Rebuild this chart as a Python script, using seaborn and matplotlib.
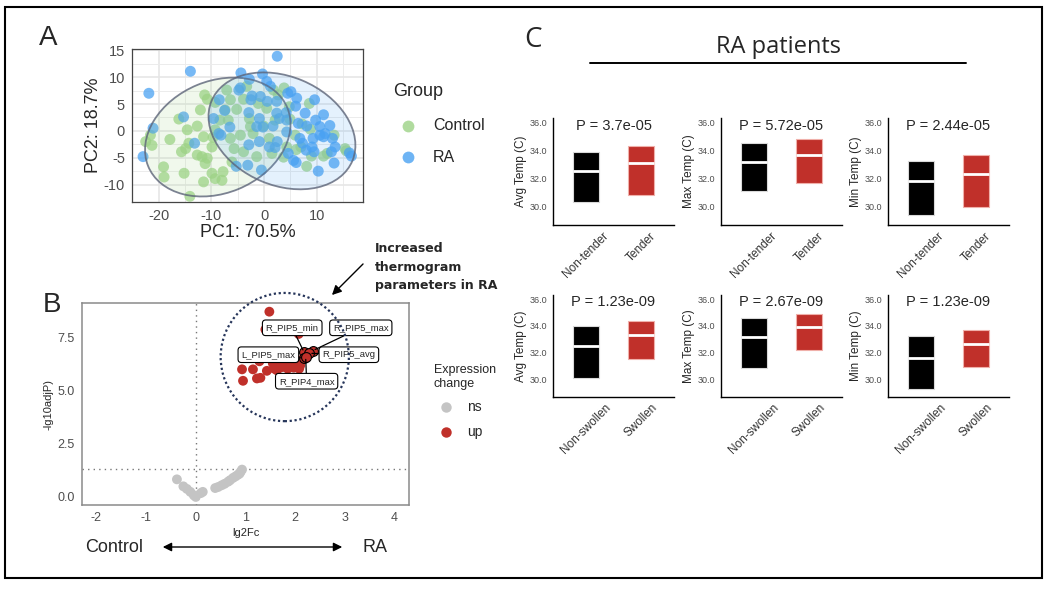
import warnings
warnings.simplefilter(action='ignore', category=UserWarning)

import numpy as np
import pandas as pd
import matplotlib
matplotlib.use("Agg")
import matplotlib.pyplot as plt
import matplotlib.transforms as mtransforms
import seaborn as sns
from matplotlib.patches import Ellipse, Rectangle, FancyArrowPatch
from matplotlib.lines import Line2D

sns.set_style("white")
plt.rcParams['font.family'] = ['Liberation Sans', 'DejaVu Sans']
plt.rcParams['axes.unicode_minus'] = False

# ---------------- data ----------------
# Panel A: PCA scores (PC1, PC2)
ctrl_pts = [(-22.5, -2.0), (-21.6, -0.8), (-21.3, -2.7), (-19.1, -6.7), (-19.0, -8.6),
            (-17.9, -1.6), (-16.2, 2.2), (-15.2, -7.9), (-15.7, -3.9), (-14.9, -3.3),
            (-14.6, 0.2), (-14.1, -12.2), (-12.7, 0.9), (-12.1, 3.9), (-11.3, 6.7),
            (-10.8, 5.9), (-11.5, -1.1), (-11.5, -9.5), (-11.8, -4.8), (-11.2, -6.1),
            (-10.8, -5.1), (-9.9, -3.0), (-9.7, -1.2), (-9.3, -8.9), (-8.0, -9.2),
            (-7.8, -7.6), (-8.4, 2.0), (-9.3, 0.2), (-7.1, 7.6), (-6.4, 5.8),
            (-6.4, -1.4), (-5.7, -3.3), (-6.1, -5.8), (-5.2, 4.0), (-4.5, -0.8),
            (-3.3, 8.3), (-2.8, 2.3), (-2.1, -0.5), (-1.1, 5.1), (-0.1, 0.9),
            (0.5, 4.2), (1.0, -1.4), (1.8, 7.6), (2.7, 6.7), (3.8, 8.0),
            (4.9, 2.2), (5.9, -0.8), (6.1, -3.5), (4.3, -3.0), (8.1, -6.6),
            (8.6, 5.1), (7.2, 1.3), (8.8, 0.3), (9.0, -4.7), (11.3, -4.7),
            (12.0, -4.2), (13.3, -0.8), (15.4, -3.3), (15.6, -3.7), (3.7, -4.9),
            (1.5, -4.2), (-1.4, -4.8), (-3.9, -3.9), (-6.8, 2.0), (-3.9, 5.9),
            (-2.6, 0.8), (7.0, -3.0), (4.8, 4.5), (2.1, 2.0), (-12.7, -4.5),
            (-14.3, -2.3), (-9.9, -7.9), (-7.4, 3.9), (-9.3, 5.3)]
ra_pts = [(2.5, 13.9), (-14.0, 11.1), (-21.9, 7.0), (-21.1, 0.5), (-23.0, -4.8),
          (-15.3, 2.6), (-13.2, -2.3), (-4.4, 10.8), (-0.3, 10.6), (0.5, 9.2),
          (-2.8, 9.6), (-4.8, 7.6), (-2.3, 6.5), (-2.5, 5.8), (-8.5, 5.8),
          (-7.5, 3.8), (-9.6, 2.3), (-8.6, -0.5), (-6.5, 0.7), (-8.2, -0.8),
          (-2.9, 3.4), (-0.9, 2.3), (-0.2, 0.7), (0.6, 5.5), (2.4, 5.5),
          (2.9, 2.3), (1.7, 0.9), (4.2, 3.4), (4.5, 7.0), (5.1, 7.3),
          (6.2, 6.1), (6.0, 4.6), (9.6, 5.8), (7.8, 3.3), (8.1, 0.9),
          (9.8, 2.0), (11.3, 3.0), (12.5, 1.0), (10.6, -0.8), (11.3, -1.1),
          (13.0, -1.4), (13.5, -3.0), (12.8, -3.9), (13.3, -6.0), (10.3, -7.5),
          (7.3, -2.3), (5.6, -5.5), (4.6, -4.2), (6.1, -5.9), (2.5, -2.0),
          (1.0, -3.0), (2.1, -3.1), (-0.9, -2.0), (-2.9, -2.6), (-5.3, -6.6),
          (-3.1, -6.4), (-0.5, -7.3), (16.2, -4.1), (16.6, -4.7), (9.3, -1.4),
          (9.1, -3.0), (8.0, -3.6), (4.3, -0.2), (2.4, 3.3), (4.3, 2.0),
          (-1.4, 0.8), (-4.5, 8.0), (-0.7, 6.4), (1.2, 8.3), (6.5, 1.4),
          (10.6, 0.8), (11.6, -0.5), (6.8, -1.4), (9.5, -3.9)]
# ellipses: center x, center y, full width, full height, angle (deg)
ctrl_ell = [-8.8, -1.15, 28.6, 20.9, 22]
ra_ell = [3.4, 0.0, 29.0, 20.3, -22.3]

# Panel B: volcano (lg2Fc, -log10 adjP)
ns_pts = [(-0.38, 0.83), (-0.25, 0.50), (-0.18, 0.38), (-0.11, 0.24), (-0.04, 0.08),
          (0.0, 0.0), (0.10, 0.18), (0.14, 0.24), (0.39, 0.42), (0.45, 0.47),
          (0.52, 0.55), (0.58, 0.62), (0.65, 0.72), (0.69, 0.79), (0.75, 0.90),
          (0.80, 0.97), (0.85, 1.05), (0.88, 1.10), (0.90, 1.18), (0.93, 1.29)]
up_pts = [(1.48, 8.74), (1.40, 7.90), (2.07, 7.69), (0.93, 6.02), (0.95, 5.48),
          (1.15, 6.02), (1.23, 5.59), (1.30, 5.62), (1.43, 5.95), (1.28, 6.40),
          (1.58, 6.05), (1.63, 5.98), (1.70, 6.10), (1.77, 6.14), (1.85, 6.05),
          (1.90, 6.17), (1.97, 6.10), (2.03, 6.30), (2.08, 6.05), (2.13, 6.46),
          (1.55, 6.30), (1.75, 6.35), (1.95, 6.40), (2.00, 6.22), (1.68, 6.25),
          (1.82, 6.28), (2.10, 6.20)]
lab_names = ["R_PIP5_min", "R_PIP5_max", "L_PIP5_max", "R_PIP5_avg", "R_PIP4_max"]
lab_pts = [(2.18, 6.82), (2.35, 6.90), (2.17, 6.55), (2.28, 6.78), (2.21, 6.62)]
lab_text_pos = [(1.94, 7.98), (3.32, 7.98), (1.46, 6.71), (3.08, 6.71), (2.23, 5.46)]
sig_line = 1.3

# Panel C: box summaries (q1, median, q3)
tender_cats = ["Non-tender", "Tender"]
swollen_cats = ["Non-swollen", "Swollen"]
measures = ["Avg Temp (C)", "Max Temp (C)", "Min Temp (C)"]
tender_q1 = [[30.27, 30.80], [31.09, 31.64], [29.34, 29.94]]
tender_med = [[32.55, 33.08], [33.20, 33.68], [31.80, 32.30]]
tender_q3 = [[33.90, 34.35], [34.52, 34.83], [33.24, 33.65]]
tender_p = ["3.7e-05", "5.72e-05", "2.44e-05"]
swollen_q1 = [[30.07, 31.52], [30.87, 32.20], [29.27, 30.92]]
swollen_med = [[32.50, 33.30], [33.17, 33.92], [31.62, 32.62]]
swollen_q3 = [[33.97, 34.37], [34.57, 34.90], [33.25, 33.67]]
swollen_p = ["1.23e-09", "2.67e-09", "1.23e-09"]

# ---------------- figure ----------------
W, H = 1052, 590
fig = plt.figure(figsize=(W / 100, H / 100), dpi=100)


def add_ax(x0, y0, x1, y1):
    return fig.add_axes([x0 / W, 1 - y1 / H, (x1 - x0) / W, (y1 - y0) / H])


def fx(x):
    return x / W


def fy(y):
    return 1 - y / H


fig.add_artist(Rectangle((fx(5), fy(578)), fx(1042) - fx(5), fy(7) - fy(578),
                         transform=fig.transFigure, fill=False, ec='black', lw=1.5))

# ---- Panel A ----
green, blue = '#9dd386', '#4aa2f2'
ax = add_ax(132, 49, 363, 202)
df_pca = pd.DataFrame(ctrl_pts + ra_pts, columns=['PC1', 'PC2'])
df_pca['Group'] = ['Control'] * len(ctrl_pts) + ['RA'] * len(ra_pts)
sns.scatterplot(data=df_pca, x='PC1', y='PC2', hue='Group',
                palette={'Control': green, 'RA': blue}, s=62, alpha=0.75,
                linewidth=0, legend=False, ax=ax, zorder=3)
for e, col in [(ctrl_ell, green), (ra_ell, blue)]:
    ax.add_patch(Ellipse((e[0], e[1]), e[2], e[3], angle=e[4], fc=col, alpha=0.15,
                         ec='none', zorder=4))
    ax.add_patch(Ellipse((e[0], e[1]), e[2], e[3], angle=e[4], fill=False,
                         ec='#5c6478', lw=1.3, alpha=0.8, zorder=4))
ax.set_xlim(-25.1, 18.8)
ax.set_ylim(-13.25, 15.25)
ax.set_xticks([-20, -10, 0, 10])
ax.set_xticks([-15, -5, 5, 15], minor=True)
ax.set_yticks([-10, -5, 0, 5, 10, 15])
ax.set_yticks([-7.5, -2.5, 2.5, 7.5, 12.5], minor=True)
ax.grid(which='major', color='#e6e6e6', lw=1.2)
ax.grid(which='minor', color='#ececec', lw=0.7)
ax.set_axisbelow(True)
ax.tick_params(which='major', length=3, color='#333333', labelsize=10.5, labelcolor='#4d4d4d', pad=2)
ax.tick_params(which='minor', length=0)
for s in ax.spines.values():
    s.set_color('#444444')
    s.set_linewidth(0.9)
ax.set_xlabel('PC1: 70.5%', fontsize=13, labelpad=1)
ax.set_ylabel('PC2: 18.7%', fontsize=13, labelpad=1)

fig.text(fx(393), fy(92), 'Group', fontsize=13, va='center')
for yy, lab, col in [(126, 'Control', green), (157, 'RA', blue)]:
    fig.add_artist(Line2D([fx(408)], [fy(yy)], marker='o', ms=8.5, color=col, alpha=0.8,
                          mec='none', transform=fig.transFigure))
    fig.text(fx(433), fy(yy), lab, fontsize=11.5, va='center')

# ---- Panel B ----
gray, red = '#c4c4c4', '#c0302a'
axb = add_ax(82, 303, 409, 505)
df_v = pd.DataFrame(ns_pts + up_pts, columns=['lg2Fc', 'nlp'])
df_v['change'] = ['ns'] * len(ns_pts) + ['up'] * len(up_pts)
axb.axvline(0, ls=(0, (1, 3)), color='#777777', lw=1, zorder=1)
axb.axhline(sig_line, ls=(0, (1, 3)), color='#777777', lw=1, zorder=1)
sns.scatterplot(data=df_v, x='lg2Fc', y='nlp', hue='change',
                palette={'ns': gray, 'up': red}, s=50, linewidth=0,
                legend=False, ax=axb, zorder=2)
df_l = pd.DataFrame(lab_pts, columns=['lg2Fc', 'nlp'])
sns.scatterplot(data=df_l, x='lg2Fc', y='nlp', color=red, s=50, edgecolor='black',
                linewidth=0.8, legend=False, ax=axb, zorder=3)
for name, (px_, py_), (tx, ty) in zip(lab_names, lab_pts, lab_text_pos):
    axb.annotate(name, xy=(px_, py_), xytext=(tx, ty), fontsize=6.8, ha='center', va='center',
                 bbox=dict(boxstyle='round,pad=0.35', fc='white', ec='black', lw=0.8),
                 arrowprops=dict(arrowstyle='-', color='black', lw=0.9, shrinkA=0, shrinkB=2),
                 zorder=5)
axb.add_patch(Ellipse((1.79, 6.6), 2.58, 6.05, fill=False, ec='#26355a', lw=1.6,
                      ls=(0, (1, 1.2)), clip_on=False, zorder=6))
axb.set_xlim(-2.29, 4.29)
axb.set_ylim(-0.38, 9.15)
axb.set_xticks([-2, -1, 0, 1, 2, 3, 4])
axb.set_yticks([0, 2.5, 5, 7.5])
axb.set_yticklabels(['0.0', '2.5', '5.0', '7.5'])
axb.tick_params(length=3, color='#333333', labelsize=9, labelcolor='#4d4d4d', pad=2)
for s in axb.spines.values():
    s.set_color('#8a8a8a')
    s.set_linewidth(1.1)
axb.set_xlabel('lg2Fc', fontsize=8, labelpad=3)
axb.set_ylabel('-lg10adjP)', fontsize=8, labelpad=3)

for yy, line in [(248, 'Increased'), (267, 'thermogram'), (285, 'parameters in RA')]:
    fig.text(fx(375), fy(yy), line, fontsize=9, fontweight='bold', va='center',
             family='DejaVu Sans')
fig.add_artist(FancyArrowPatch((fx(365), fy(262)), (fx(330), fy(297)), transform=fig.transFigure,
                               arrowstyle='-|>', mutation_scale=14, color='black', lw=1))

fig.text(fx(434), fy(377), 'Expression\nchange', fontsize=9, va='center', linespacing=1.2)
for yy, lab, col in [(407, 'ns', gray), (432, 'up', red)]:
    fig.add_artist(Line2D([fx(446)], [fy(yy)], marker='o', ms=7.5, color=col, mec='none',
                          transform=fig.transFigure))
    fig.text(fx(467), fy(yy), lab, fontsize=10, va='center')

fig.text(fx(85), fy(547), 'Control', fontsize=13, va='center')
fig.text(fx(362), fy(547), 'RA', fontsize=13, va='center')
fig.add_artist(FancyArrowPatch((fx(160), fy(547)), (fx(345), fy(547)), transform=fig.transFigure,
                               arrowstyle='<|-|>', mutation_scale=13, color='black', lw=1))

# ---- Panel letters / C title ----
fig.text(fx(48), fy(38), 'A', fontsize=20, ha='center', va='center')
fig.text(fx(52), fy(305), 'B', fontsize=20, ha='center', va='center')
fig.text(fx(533), fy(40), 'C', fontsize=20, ha='center', va='center', family='Open Sans')
fig.text(fx(779), fy(47), 'RA patients', fontsize=17, ha='center', va='center', family='Open Sans')
fig.add_artist(Line2D([fx(590), fx(966)], [fy(63), fy(63)], color='black', lw=1.4,
                      transform=fig.transFigure))

# ---- Panel C boxes ----
xcols = [(553, 674), (721, 842), (888, 1009)]
rows = [((118, 225), tender_cats, tender_q1, tender_med, tender_q3, tender_p),
        ((295, 397), swollen_cats, swollen_q1, swollen_med, swollen_q3, swollen_p)]
for (y0, y1), cats, q1s, meds, q3s, pvals in rows:
    for i, (x0, x1) in enumerate(xcols):
        axc = add_ax(x0, y0, x1, y1)
        stats = [dict(label=cats[j], q1=q1s[i][j], med=meds[i][j], q3=q3s[i][j],
                      whislo=q1s[i][j], whishi=q3s[i][j], fliers=[]) for j in range(2)]
        bp = axc.bxp(stats, positions=[0, 1], widths=0.47, patch_artist=True,
                     showfliers=False, showcaps=False,
                     boxprops=dict(lw=0.8),
                     whiskerprops=dict(lw=0),
                     medianprops=dict(color='white', lw=2))
        for patch, fc, ec in zip(bp['boxes'], ['black', red], ['#d9d9d9', '#f0b0aa']):
            patch.set_facecolor(fc)
            patch.set_edgecolor(ec)
        axc.set_xlim(-0.6, 1.6)
        axc.set_ylim(28.65, 36.33)
        axc.set_yticks([30, 32, 34, 36])
        axc.set_yticklabels(['30.0', '32.0', '34.0', '36.0'])
        axc.set_xticks([0, 1])
        axc.set_xticklabels(cats, rotation=45, ha='center', va='top')
        axc.tick_params(axis='y', labelsize=6.5, labelcolor='#4d4d4d', length=2.5, pad=1.5)
        axc.tick_params(axis='x', labelsize=8.5, labelcolor='#333333', length=2.5, pad=1)
        for side in ['top', 'right']:
            axc.spines[side].set_visible(False)
        for side in ['left', 'bottom']:
            axc.spines[side].set_color('black')
            axc.spines[side].set_linewidth(1)
        axc.set_ylabel(measures[i], fontsize=8.5, labelpad=2)
        trans = mtransforms.blended_transform_factory(axc.transAxes, axc.transData)
        axc.text(0.5, 35.78, 'P = ' + pvals[i], transform=trans, ha='center', va='center',
                 fontsize=10.5)

fig.savefig('out.png', dpi=100)
